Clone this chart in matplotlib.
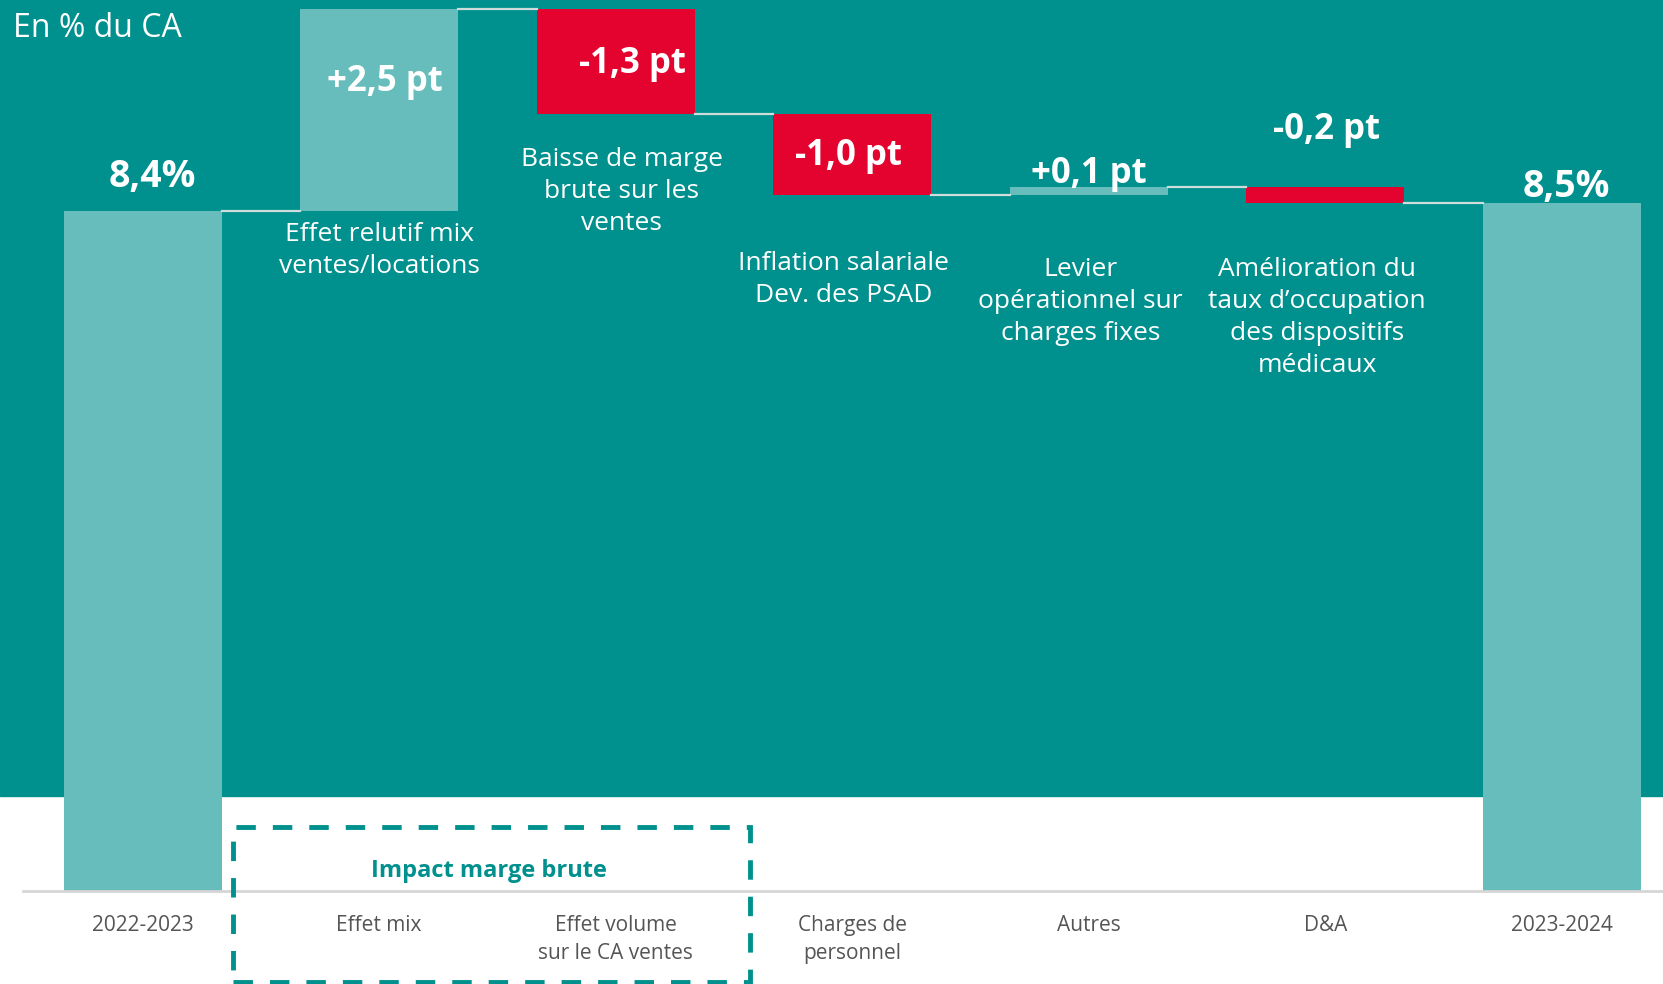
import matplotlib
matplotlib.use("Agg")
import matplotlib.pyplot as plt
import numpy as np
from matplotlib.patches import Rectangle


CATEGORIES = [
    "2022-2023",
    "Effet mix",
    "Effet volume\nsur le CA ventes",
    "Charges de\npersonnel",
    "Autres",
    "D&A",
    "2023-2024",
]
START_VALUE = 8.4
END_VALUE = 8.5
DELTAS = [2.5, -1.3, -1.0, 0.1, -0.2]
VALUE_LABELS = ["8,4%", "+2,5 pt", "-1,3 pt", "-1,0 pt", "+0,1 pt", "-0,2 pt", "8,5%"]
DESCRIPTIONS = [
    "",
    "Effet relutif mix\nventes/locations",
    "Baisse de marge\nbrute sur les\nventes",
    "Inflation salariale\nDev. des PSAD",
    "Levier\nopérationnel sur\ncharges fixes",
    "Amélioration du\ntaux d’occupation\ndes dispositifs\nmédicaux",
    "",
]

# layout (offsets relative to bars, in data units)
VALUE_DX = [0.04, 0.025, 0.07, -0.016, 0.0, 0.007, 0.02]
VALUE_DY = [0.425, -0.905, -0.685, -0.515, 0.155, 0.705, 0.195]
DESC_DX = [0, 0.0, 0.025, -0.038, -0.034, -0.034, 0]
DESC_TOP = [None, 8.27, 9.19, 7.91, 7.83, 7.83, None]

TEAL = "#00908D"
LIGHT_TEAL = "#67BCBC"
RED = "#E3032E"
GRID_GRAY = "#d6d6d6"
LABEL_GRAY = "#555555"

plt.rcParams["font.family"] = ["Open Sans", "DejaVu Sans"]

fig = plt.figure(figsize=(16.63, 9.84), dpi=100)
ax = fig.add_axes([0, 0, 1, 1])
ax.set_xlim(-0.603, 6.428)
ax.set_ylim(-1.153, 11.01)
ax.axis("off")

# teal background panel
ax.axhspan(1.166, 11.01, color=TEAL, zorder=0)

# waterfall geometry
levels = np.concatenate([[START_VALUE], START_VALUE + np.cumsum(DELTAS)])
x = np.arange(len(CATEGORIES))
bottoms = [0]
heights = [START_VALUE]
colors = [LIGHT_TEAL]
for i, d in enumerate(DELTAS):
    bottoms.append(min(levels[i], levels[i + 1]))
    heights.append(abs(d))
    colors.append(LIGHT_TEAL if d > 0 else RED)
bottoms.append(0)
heights.append(END_VALUE)
colors.append(LIGHT_TEAL)
tops = [b + h for b, h in zip(bottoms, heights)]

width = 0.668
ax.bar(x, heights, bottom=bottoms, width=width, color=colors, zorder=2)

# connectors
for i in range(len(x) - 1):
    lvl = levels[i] if i < len(levels) else END_VALUE
    ax.plot([x[i] + width / 2, x[i + 1] - width / 2], [lvl, lvl],
            color="#cfdcdc", lw=1.6, zorder=3)

# baseline
ax.plot([-0.504, 6.428], [0, 0], color=GRID_GRAY, lw=2, zorder=3)

# value labels
for i, label in enumerate(VALUE_LABELS):
    size = 27 if i in (0, len(x) - 1) else 25
    ax.text(x[i] + VALUE_DX[i], tops[i] + VALUE_DY[i], label, color="white",
            fontsize=size, fontweight="bold", ha="center", va="center", zorder=5)

# descriptions
for i, desc in enumerate(DESCRIPTIONS):
    if not desc:
        continue
    ax.text(x[i] + DESC_DX[i], DESC_TOP[i], desc, color="white", fontsize=19,
            ha="center", va="top", linespacing=1.36, zorder=5)

# category labels
for i, cat in enumerate(CATEGORIES):
    ax.text(x[i], -0.30, cat, color=LABEL_GRAY, fontsize=15, ha="center",
            va="top", linespacing=1.45, zorder=5)

ax.text(-0.549, 10.66, "En % du CA", color="white", fontsize=23,
        ha="left", va="center", zorder=5)

# gross margin box
box = Rectangle((0.383, -1.127), 2.567 - 0.383, 0.786 + 1.127, fill=False,
                edgecolor=TEAL, lw=3.5, linestyle=(0, (4, 3.5)), zorder=4)
ax.add_patch(box)
ax.text(1.464, 0.24, "Impact marge brute", color=TEAL, fontsize=17,
        fontweight="bold", ha="center", va="center", zorder=5)

fig.savefig("out.png", dpi=100)
